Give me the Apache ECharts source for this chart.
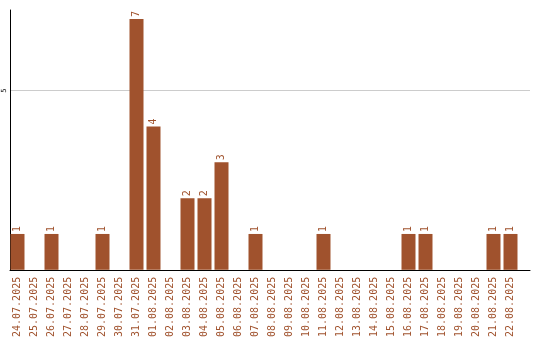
<!DOCTYPE html>
<html><head><meta charset="utf-8">
<script src="https://cdn.jsdelivr.net/npm/echarts@6/dist/echarts.min.js"></script>
<style>html,body{margin:0;padding:0;background:#fff}#c{width:540px;height:340px}</style>
</head><body><div id="c"></div>
<script>
const categories = ['24.07.2025','25.07.2025','26.07.2025','27.07.2025','28.07.2025','29.07.2025','30.07.2025','31.07.2025','01.08.2025','02.08.2025','03.08.2025','04.08.2025','05.08.2025','06.08.2025','07.08.2025','08.08.2025','09.08.2025','10.08.2025','11.08.2025','12.08.2025','13.08.2025','14.08.2025','15.08.2025','16.08.2025','17.08.2025','18.08.2025','19.08.2025','20.08.2025','21.08.2025','22.08.2025'];
const values = [1,0,1,0,0,1,0,7,4,0,2,2,3,0,1,0,0,0,1,0,0,0,0,1,1,0,0,0,1,1];
const yTicks = [5];
const color = '#a0522d';
const chart = echarts.init(document.getElementById('c'));
chart.setOption({
  animation: false,
  grid: [
    {left: 9, width: 510, top: 10, bottom: 70},
    {left: 10, right: 10, top: 10, bottom: 70}
  ],
  xAxis: [
    {type: 'category', gridIndex: 0, data: categories,
     axisLine: {show: false}, axisTick: {show: false},
     axisLabel: {interval: 0, rotate: 90, margin: 7, color: color,
       fontFamily: 'DejaVu Sans Mono', fontSize: 10}},
    {type: 'category', gridIndex: 1, data: [''],
     axisLine: {show: true, lineStyle: {color: '#000', width: 1}},
     axisTick: {show: false}, axisLabel: {show: false}}
  ],
  yAxis: [
    {type: 'value', gridIndex: 0, min: 0, max: 7.25, interval: 5, show: false},
    {type: 'value', gridIndex: 1, min: 0, max: 7.25, interval: 5,
     axisLine: {show: true, lineStyle: {color: '#000', width: 1}},
     axisTick: {show: false},
     splitLine: {show: true, lineStyle: {color: ['transparent', '#cccccc', 'transparent'], width: 1}},
     axisLabel: {rotate: 90, margin: 2, color: '#000', fontSize: 7,
       fontFamily: 'DejaVu Sans Mono', showMaxLabel: false,
       formatter: v => yTicks.includes(v) ? String(v) : ''}}
  ],
  series: [{
    type: 'bar', xAxisIndex: 0, yAxisIndex: 0, data: values.map(v => v === 0 ? null : v),
    barWidth: 14,
    itemStyle: {color: color},
    label: {show: true, position: 'top', rotate: 90, align: 'left', verticalAlign: 'middle',
      distance: 2, color: color, fontFamily: 'DejaVu Sans Mono', fontSize: 10}
  }]
});
</script></body></html>
